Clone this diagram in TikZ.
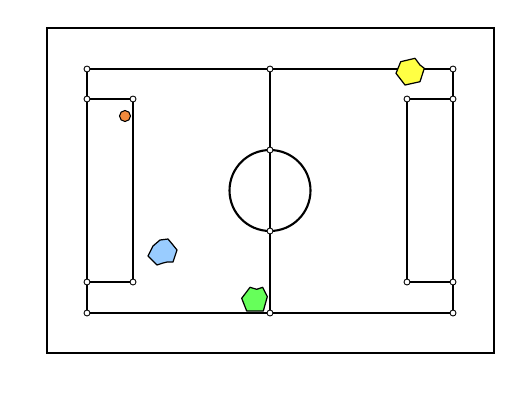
\documentclass[tikz,border=0pt]{standalone}
\definecolor{ballorange}{HTML}{F28A3C}
\definecolor{teamyellow}{HTML}{FFFF44}
\definecolor{teamblue}{HTML}{99CCFF}
\definecolor{teamgreen}{HTML}{66FF5A}
\tikzset{
  pitchline/.style={line width=1.2pt},
  vertex/.style={circle,draw,fill=white,inner sep=0pt,minimum size=3.4pt,line width=0.5pt},
  player/.style={draw,line width=0.7pt,line join=round},
}
\begin{document}
\begin{tikzpicture}[x=0.02cm,y=-0.02cm]
  \useasboundingbox (0,0) rectangle (520,400);
  % Frame
  \draw[line width=0.6pt] (47,28) rectangle (494,353);
  % Pitch points
  \coordinate (tl) at (87,69);   \coordinate (tm) at (270,69);  \coordinate (tr) at (453,69);
  \coordinate (bl) at (87,313);  \coordinate (bm) at (270,313); \coordinate (br) at (453,313);
  \coordinate (lbt) at (87,99);  \coordinate (lbti) at (133,99);
  \coordinate (lbb) at (87,282); \coordinate (lbbi) at (133,282);
  \coordinate (rbt) at (453,99); \coordinate (rbti) at (407,99);
  \coordinate (rbb) at (453,282); \coordinate (rbbi) at (407,282);
  \coordinate (ct) at (270,150); \coordinate (cb) at (270,231);
  \coordinate (c) at (270,190.5);
  % Lines
  \draw[pitchline] (tl) -- (tr) -- (br) -- (bl) -- cycle;
  \draw[pitchline] (tm) -- (bm);
  \draw[pitchline] (c) circle[radius=0.81cm];
  \draw[pitchline] (lbt) -- (lbti) -- (lbbi) -- (lbb);
  \draw[pitchline] (rbt) -- (rbti) -- (rbbi) -- (rbb);
  % Vertex dots
  \foreach \p in {tl,tm,tr,bl,bm,br,lbt,lbti,lbb,lbbi,rbt,rbti,rbb,rbbi,ct,cb}
    \node[vertex] at (\p) {};
  % Players
  \filldraw[player,fill=teamyellow] (400.7,61.7) -- (415,58.3) -- (420,65) -- (424.3,68.3)
    -- (420,81.7) -- (405,85) -- (396,73.3) -- cycle;
  \filldraw[player,fill=teamblue] (153,246) -- (160,240) -- (168,239) -- (173,245) -- (177,250)
    -- (173,262) -- (167,262) -- (163,263) -- (157,265) -- (148,256) -- cycle;
  \filldraw[player,fill=teamgreen] (241.7,298.3) -- (250,287.3) -- (256.7,289.3) -- (262.7,287.3)
    -- (267.3,296.7) -- (263.3,311) -- (246.7,311) -- cycle;
  % Ball
  \filldraw[fill=ballorange,line width=0.6pt] (125,116) circle[radius=0.11cm];
\end{tikzpicture}
\end{document}
